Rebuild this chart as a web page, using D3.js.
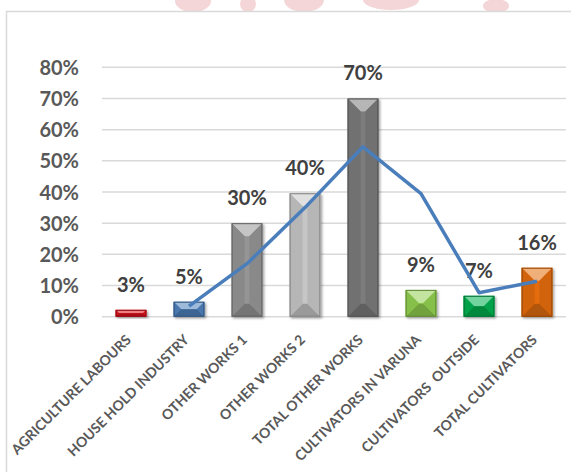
<!DOCTYPE html>
<html>
<head>
<meta charset="utf-8">
<script src="https://cdn.jsdelivr.net/npm/d3@7"></script>
<style>
  body { margin: 0; background: #fff; }
  svg { display: block; }
</style>
</head>
<body>
<script>
// chart data
const categories = [
  "AGRICULTURE LABOURS", "HOUSE HOLD INDUSTRY", "OTHER WORKS 1", "OTHER WORKS 2",
  "TOTAL OTHER WORKS", "CULTIVATORS IN VARUNA", "CULTIVATORS  OUTSIDE", "TOTAL CULTIVATORS"
]
const barValues = [0.022, 0.048, 0.30, 0.396, 0.70, 0.086, 0.067, 0.157]
const barLabels = ["3%", "5%", "30%", "40%", "70%", "9%", "7%", "16%"]
const lineValues = [null, 0.034, 0.17, 0.35, 0.545, 0.395, 0.077, 0.114]
const barColors = ["#e0161e", "#4f81bd", "#959595", "#c6c6c6", "#7b7b7b", "#92d050", "#00b050", "#e46c0a"]
const yTicks = [0, 0.1, 0.2, 0.3, 0.4, 0.5, 0.6, 0.7, 0.8]

const width = 571, height = 472
const plot = { left: 102, right: 566, top: 67.3, bottom: 316.7 }
const font = "Lato, 'Open Sans', sans-serif"

const svg = d3.select("body").append("svg")
  .attr("width", width)
  .attr("height", height)

// faint watermark bits showing above the chart frame
const wm = svg.append("g").attr("fill", "#f4d6d8")
;[[193, 1, 18, 11], [248, 4, 8, 8], [304, 0, 20, 12], [391, 0, 28, 10],
  [496, 6, 13, 7]].forEach(([cx, cy, rx, ry]) => {
  wm.append("ellipse")
    .attr("cx", cx).attr("cy", cy).attr("rx", rx).attr("ry", ry)
})

// chart area (white with light border)
svg.append("rect")
  .attr("x", 6.5)
  .attr("y", 11.5)
  .attr("width", 600)
  .attr("height", 500)
  .attr("fill", "#fff")
  .attr("stroke", "#d9d9d9")
  .attr("stroke-width", 1.5)

// shadow filter for bars
const defs = svg.append("defs")
const shadow = defs.append("filter")
  .attr("id", "shadow")
  .attr("x", "-30%").attr("y", "-30%")
  .attr("width", "160%").attr("height", "160%")
shadow.append("feDropShadow")
  .attr("dx", 1.5).attr("dy", 1.5)
  .attr("stdDeviation", 1)
  .attr("flood-color", "#000")
  .attr("flood-opacity", 0.35)

// scales
const x = d3.scaleBand()
  .domain(categories)
  .range([plot.left, plot.right])
  .paddingInner(0.47)
  .paddingOuter(0.235)

const y = d3.scaleLinear()
  .domain([0, 0.8])
  .range([plot.bottom, plot.top])

// gridlines
svg.append("g")
  .selectAll("line")
  .data(yTicks)
  .join("line")
  .attr("x1", plot.left)
  .attr("x2", plot.right)
  .attr("y1", d => y(d))
  .attr("y2", d => y(d))
  .attr("stroke", "#d9d9d9")
  .attr("stroke-width", 1.5)

// y axis labels
const yAxis = svg.append("g")
  .attr("transform", `translate(${plot.left - 23},0)`)
  .call(d3.axisLeft(y)
    .tickValues(yTicks)
    .tickFormat(d3.format(".0%"))
    .tickSize(0)
    .tickPadding(0))
yAxis.select(".domain").remove()
yAxis.selectAll("text")
  .attr("fill", "#595959")
  .attr("dy", "0.35em")
  .style("font-family", font)
  .style("font-weight", "bold")
  .style("font-size", "20px")

// bars with bevel look
const bars = svg.append("g")
  .selectAll("g")
  .data(categories)
  .join("g")
  .attr("filter", "url(#shadow)")

bars.each(function (c, i) {
  const g = d3.select(this)
  const x0 = x(c), x1 = x(c) + x.bandwidth()
  const y0 = y(barValues[i]), y1 = y(0)
  const w = x1 - x0, h = y1 - y0
  const d = Math.min(13, w / 2, h / 2)
  const base = d3.color(barColors[i])
  const light = d3.interpolateRgb(base, "#fff")(0.45)
  const side = d3.interpolateRgb(base, "#000")(0.08)
  const dark = d3.interpolateRgb(base, "#000")(0.22)
  const edge = d3.interpolateRgb(base, "#000")(0.35)

  g.append("rect")
    .attr("x", x0).attr("y", y0)
    .attr("width", w).attr("height", h)
    .attr("fill", base)
  const poly = (pts, fill) => g.append("polygon")
    .attr("points", pts.map(p => p.join(",")).join(" "))
    .attr("fill", fill)
  poly([[x0, y0], [x1, y0], [x1 - d, y0 + d], [x0 + d, y0 + d]], light)
  poly([[x0, y1], [x1, y1], [x1 - d, y1 - d], [x0 + d, y1 - d]], dark)
  poly([[x0, y0], [x0 + d, y0 + d], [x0 + d, y1 - d], [x0, y1]], side)
  poly([[x1, y0], [x1 - d, y0 + d], [x1 - d, y1 - d], [x1, y1]], side)
  g.append("rect")
    .attr("x", x0 + 0.5).attr("y", y0 + 0.5)
    .attr("width", w - 1).attr("height", h - 1)
    .attr("fill", "none")
    .attr("stroke", edge)
    .attr("stroke-width", 1)
})

// data labels
svg.append("g")
  .selectAll("text")
  .data(categories)
  .join("text")
  .attr("x", d => x(d) + x.bandwidth() / 2)
  .attr("y", (d, i) => y(barValues[i]) - 18)
  .attr("text-anchor", "middle")
  .attr("fill", "#404040")
  .style("font-family", font)
  .style("font-weight", "bold")
  .style("font-size", "20px")
  .text((d, i) => barLabels[i])

// trend line
const line = d3.line()
  .defined(d => d[1] !== null)
  .x(d => x(d[0]) + x.bandwidth() / 2)
  .y(d => y(d[1]))
svg.append("path")
  .datum(categories.map((c, i) => [c, lineValues[i]]))
  .attr("d", line)
  .attr("fill", "none")
  .attr("stroke", "#4a7ebb")
  .attr("stroke-width", 3.5)
  .attr("stroke-linejoin", "round")

// x axis labels, rotated
svg.append("g")
  .selectAll("text")
  .data(categories)
  .join("text")
  .attr("transform", d =>
    `translate(${x(d) + x.bandwidth() / 2 + 1},${plot.bottom + 24}) rotate(-45)`)
  .attr("text-anchor", "end")
  .attr("fill", "#595959")
  .style("font-family", font)
  .style("font-weight", "bold")
  .style("font-size", "14px")
  .style("white-space", "pre")
  .text(d => d)
</script>
</body>
</html>
